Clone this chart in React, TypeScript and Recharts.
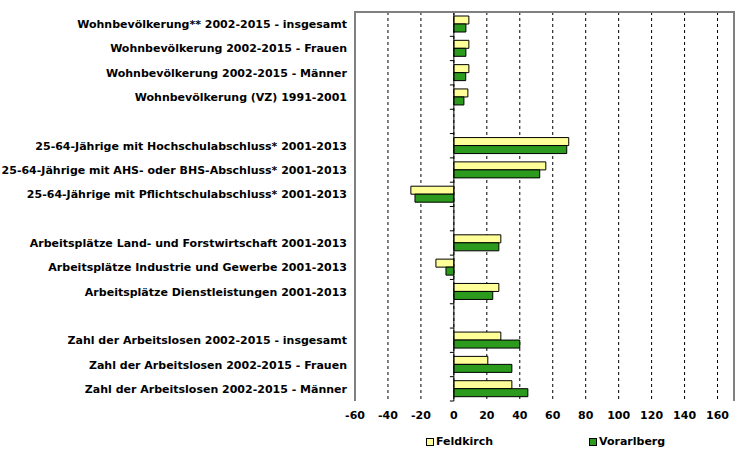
import React from 'react';
import { BarChart, Bar, XAxis, YAxis, CartesianGrid, ReferenceLine } from 'recharts';

// category labels ('' = spacer rows between groups)
const labels = [
    'Wohnbevölkerung** 2002-2015 - insgesamt',
    'Wohnbevölkerung 2002-2015 - Frauen',
    'Wohnbevölkerung 2002-2015 - Männer',
    'Wohnbevölkerung (VZ) 1991-2001',
    '',
    '25-64-Jährige mit Hochschulabschluss* 2001-2013',
    '25-64-Jährige mit AHS- oder BHS-Abschluss* 2001-2013',
    '25-64-Jährige mit Pflichtschulabschluss* 2001-2013',
    '',
    'Arbeitsplätze Land- und Forstwirtschaft 2001-2013',
    'Arbeitsplätze Industrie und Gewerbe 2001-2013',
    'Arbeitsplätze Dienstleistungen 2001-2013',
    '',
    'Zahl der Arbeitslosen 2002-2015 - insgesamt',
    'Zahl der Arbeitslosen 2002-2015 - Frauen',
    'Zahl der Arbeitslosen 2002-2015 - Männer',
];

const feldkirch = [9.1, 9.1, 9.1, 8.5, null, 69.7, 55.8, -26.1, null, 28.5, -10.9, 27.3, null, 28.5, 20.6, 35.2];
const vorarlberg = [7.3, 7.3, 7.2, 6.1, null, 68.5, 52.1, -23.6, null, 27.3, -4.8, 23.6, null, 40.0, 35.2, 44.9];

const xTicks = [-60, -40, -20, 0, 20, 40, 60, 80, 100, 120, 140, 160];

const data = labels.map((label, i) => ({
    id: i,
    label,
    Feldkirch: feldkirch[i],
    Vorarlberg: vorarlberg[i],
}));

const FONT = '"DejaVu Sans", Verdana, sans-serif';
const YELLOW = '#FFFF99';
const GREEN = '#2C9A1C';

// plot frame
const PLOT_LEFT = 355;
const PLOT_RIGHT = 734;
const PLOT_TOP = 12;
const PLOT_BOTTOM = 401;
const X_MIN = -60;
const X_MAX = 170;
const zeroX = PLOT_LEFT + ((0 - X_MIN) / (X_MAX - X_MIN)) * (PLOT_RIGHT - PLOT_LEFT);
const rowH = (PLOT_BOTTOM - PLOT_TOP) / labels.length;

const CategoryTick = (props: any) => {
    const { y, payload } = props;
    const idx = payload.index;
    const text = labels[idx] ?? payload.value;
    return (
        <g>
            {text ? (
                <text x={PLOT_LEFT - 8} y={y} dy={4} textAnchor="end" fontSize={11} fontWeight="bold" fontFamily={FONT} fill="#000">
                    {text}
                </text>
            ) : null}
            {idx === 0 ? (
                <line x1={zeroX - 4} x2={zeroX} y1={y - rowH / 2} y2={y - rowH / 2} stroke="#000" />
            ) : null}
            <line x1={zeroX - 4} x2={zeroX} y1={y + rowH / 2} y2={y + rowH / 2} stroke="#000" />
        </g>
    );
};

const App: React.FC = () => {
    return (
        <div style={{ position: 'absolute', left: 0, top: 0, width: 755, height: 458, background: '#fff', fontFamily: FONT }}>
            <BarChart
                width={755}
                height={458}
                data={data}
                layout="vertical"
                margin={{ top: PLOT_TOP, right: 755 - PLOT_RIGHT, bottom: 27, left: 0 }}
                barSize={8}
                barGap={0}
            >
                <CartesianGrid vertical horizontal={false} stroke="#000" strokeDasharray="3 3" />
                <XAxis
                    type="number"
                    domain={[X_MIN, X_MAX]}
                    ticks={xTicks}
                    axisLine={false}
                    tickLine={false}
                    height={30}
                    interval={0}
                    dy={2}
                    tick={{ fontSize: 11, fontWeight: 'bold', fontFamily: FONT, fill: '#000' }}
                />
                <YAxis
                    type="category"
                    dataKey="id"
                    width={PLOT_LEFT}
                    axisLine={false}
                    tickLine={false}
                    interval={0}
                    tick={<CategoryTick />}
                />
                <ReferenceLine x={X_MIN} stroke="#808080" strokeWidth={2} />
                <ReferenceLine x={X_MAX} stroke="#808080" strokeWidth={2} />
                <ReferenceLine x={0} stroke="#000" />
                <Bar dataKey="Feldkirch" fill={YELLOW} stroke="#000" strokeWidth={1} isAnimationActive={false} />
                <Bar dataKey="Vorarlberg" fill={GREEN} stroke="#000" strokeWidth={1} isAnimationActive={false} />
            </BarChart>
            <div style={{ position: 'absolute', left: PLOT_LEFT - 1, top: PLOT_TOP - 1, width: PLOT_RIGHT - PLOT_LEFT + 2, height: 0, borderTop: '2px solid #808080' }} />
            <div style={{ position: 'absolute', top: 435, left: 0, width: 755, fontSize: 11, fontWeight: 'bold', color: '#000' }}>
                <span style={{ position: 'absolute', left: 426, display: 'flex', alignItems: 'center' }}>
                    <span style={{ width: 6, height: 6, background: YELLOW, border: '1px solid #000', marginRight: 2 }} />
                    Feldkirch
                </span>
                <span style={{ position: 'absolute', left: 589, display: 'flex', alignItems: 'center' }}>
                    <span style={{ width: 6, height: 6, background: GREEN, border: '1px solid #000', marginRight: 2 }} />
                    Vorarlberg
                </span>
            </div>
        </div>
    );
};

export default App;
